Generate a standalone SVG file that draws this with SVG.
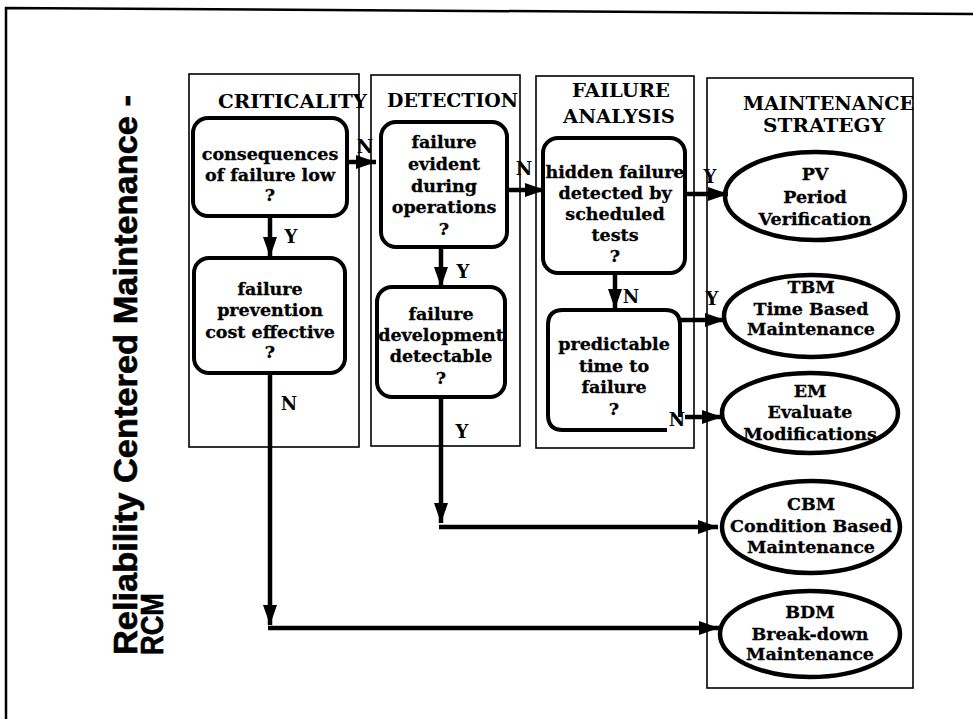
<svg xmlns="http://www.w3.org/2000/svg" width="973" height="719" viewBox="0 0 973 719">
<defs>
<style>
.frame{fill:none;stroke:#000;stroke-width:2.5}
.col{fill:none;stroke:#000;stroke-width:1.6}
.box{fill:#fff;stroke:#000;stroke-width:4}
.ell{fill:#fff;stroke:#000;stroke-width:4.5}
.t{font-family:"DejaVu Serif","Liberation Serif",serif;font-weight:bold;font-size:17.5px;text-anchor:middle;fill:#000;stroke:#000;stroke-width:0.3}
.h{font-family:"DejaVu Serif","Liberation Serif",serif;font-weight:bold;font-size:18px;fill:#000}
.lbl{font-family:"DejaVu Serif","Liberation Serif",serif;font-weight:bold;font-size:18px;text-anchor:middle;fill:#000}
.title{font-family:"Liberation Sans",Arial,sans-serif;font-weight:bold;fill:#000;stroke:#000;stroke-width:0.6}
.c{fill:none;stroke:#000;stroke-width:4.5}
</style>
<marker id="ah" markerUnits="userSpaceOnUse" markerWidth="22" markerHeight="16" refX="20" refY="7" orient="auto" viewBox="0 0 22 16">
<path d="M0,0 L20,7 L0,14 z" fill="#000"/>
</marker>
</defs>
<rect width="973" height="719" fill="#fff"/>
<polyline class="frame" points="6,719 6,8 973,14"/>

<g id="title">
<text class="title" font-size="33" transform="translate(137,655) rotate(-90)" textLength="560" lengthAdjust="spacingAndGlyphs">Reliability Centered Maintenance -</text>
<text class="title" font-size="31" transform="translate(163,655) rotate(-90)" textLength="62" lengthAdjust="spacingAndGlyphs">RCM</text>
</g>

<g id="col-criticality">
<rect class="col" x="189" y="74" width="170" height="373"/>
<text class="h" x="218" y="108" textLength="149" lengthAdjust="spacingAndGlyphs">CRITICALITY</text>
</g>
<g id="col-detection">
<rect class="col" x="371" y="75" width="149" height="371"/>
<text class="h" x="387" y="107" textLength="131" lengthAdjust="spacingAndGlyphs">DETECTION</text>
</g>
<g id="col-failure-analysis">
<rect class="col" x="536" y="76" width="158" height="372"/>
<text class="h" x="572" y="97" textLength="98" lengthAdjust="spacingAndGlyphs">FAILURE</text>
<text class="h" x="563" y="123" textLength="112" lengthAdjust="spacingAndGlyphs">ANALYSIS</text>
</g>
<g id="col-maintenance-strategy">
<rect class="col" x="707" y="78" width="206" height="610"/>
<text class="h" x="743" y="110" textLength="171" lengthAdjust="spacingAndGlyphs">MAINTENANCE</text>
<text class="h" x="763" y="132" textLength="122" lengthAdjust="spacingAndGlyphs">STRATEGY</text>
</g>

<g id="node-consequences">
<rect class="box" x="193" y="118" width="154" height="98" rx="15"/>
<text class="t" x="270" y="160">consequences</text>
<text class="t" x="270" y="181">of failure low</text>
<text class="t" x="270" y="201">?</text>
</g>
<g id="node-prevention">
<rect class="box" x="194" y="258" width="151" height="115" rx="15"/>
<text class="t" x="270" y="295">failure</text>
<text class="t" x="270" y="316">prevention</text>
<text class="t" x="270" y="338">cost effective</text>
<text class="t" x="270" y="358">?</text>
</g>
<g id="node-evident">
<rect class="box" x="381" y="122" width="126" height="125" rx="15"/>
<text class="t" x="444" y="148">failure</text>
<text class="t" x="444" y="170">evident</text>
<text class="t" x="444" y="192">during</text>
<text class="t" x="444" y="213">operations</text>
<text class="t" x="444" y="235">?</text>
</g>
<g id="node-development">
<rect class="box" x="377" y="287" width="128" height="110" rx="15"/>
<text class="t" x="441" y="320">failure</text>
<text class="t" x="441" y="341">development</text>
<text class="t" x="441" y="362">detectable</text>
<text class="t" x="441" y="384">?</text>
</g>
<g id="node-hidden">
<rect class="box" x="543" y="138" width="142" height="135" rx="15"/>
<text class="t" x="615" y="178">hidden failure</text>
<text class="t" x="615" y="199">detected by</text>
<text class="t" x="615" y="220">scheduled</text>
<text class="t" x="615" y="241">tests</text>
<text class="t" x="615" y="262">?</text>
</g>
<g id="node-predictable">
<path class="box" style="fill:none" d="M667,430 L563,430 Q548,430 548,415 L548,325 Q548,310 563,310 L665,310 Q680,310 680,325 L680,417"/>
<text class="t" x="614" y="350">predictable</text>
<text class="t" x="614" y="372">time to</text>
<text class="t" x="614" y="393">failure</text>
<text class="t" x="614" y="415">?</text>
</g>

<g id="node-pv">
<ellipse class="ell" cx="815" cy="196" rx="90" ry="44"/>
<text class="t" x="815" y="180">PV</text>
<text class="t" x="815" y="203">Period</text>
<text class="t" x="815" y="225">Verification</text>
</g>
<g id="node-tbm">
<ellipse class="ell" cx="811" cy="316" rx="87" ry="41"/>
<text class="t" x="811" y="293">TBM</text>
<text class="t" x="811" y="315">Time Based</text>
<text class="t" x="811" y="335">Maintenance</text>
</g>
<g id="node-em">
<ellipse class="ell" cx="810" cy="413" rx="88" ry="40"/>
<text class="t" x="810" y="397">EM</text>
<text class="t" x="810" y="418">Evaluate</text>
<text class="t" x="810" y="440">Modifications</text>
</g>
<g id="node-cbm">
<ellipse class="ell" cx="811" cy="527" rx="89" ry="46"/>
<text class="t" x="811" y="510">CBM</text>
<text class="t" x="811" y="532">Condition Based</text>
<text class="t" x="811" y="553">Maintenance</text>
</g>
<g id="node-bdm">
<ellipse class="ell" cx="810" cy="634" rx="90" ry="43"/>
<text class="t" x="810" y="618">BDM</text>
<text class="t" x="810" y="640">Break-down</text>
<text class="t" x="810" y="660">Maintenance</text>
</g>

<g id="connectors">
<line class="c" x1="347" y1="162" x2="376" y2="162" marker-end="url(#ah)"/>
<line class="c" x1="270" y1="216" x2="270" y2="257" marker-end="url(#ah)"/>
<line class="c" x1="270" y1="373" x2="270" y2="625" marker-end="url(#ah)"/>
<line class="c" x1="268" y1="628" x2="719" y2="628" marker-end="url(#ah)"/>
<line class="c" x1="441" y1="247" x2="441" y2="287" marker-end="url(#ah)"/>
<line class="c" x1="507" y1="190" x2="545" y2="190" marker-end="url(#ah)"/>
<line class="c" x1="441" y1="397" x2="441" y2="523" marker-end="url(#ah)"/>
<line class="c" x1="439" y1="527" x2="718" y2="527" marker-end="url(#ah)"/>
<line class="c" x1="685" y1="194" x2="728" y2="194" marker-end="url(#ah)"/>
<line class="c" x1="615" y1="273" x2="615" y2="309" marker-end="url(#ah)"/>
<line class="c" x1="680" y1="320" x2="725" y2="320" marker-end="url(#ah)"/>
<line class="c" x1="685" y1="417" x2="722" y2="417" marker-end="url(#ah)"/>
<text class="lbl" x="365" y="153">N</text>
<text class="lbl" x="291" y="243">Y</text>
<text class="lbl" x="289" y="410">N</text>
<text class="lbl" x="463" y="278">Y</text>
<text class="lbl" x="462" y="438">Y</text>
<text class="lbl" x="524" y="175">N</text>
<text class="lbl" x="710" y="183">Y</text>
<text class="lbl" x="631" y="303">N</text>
<text class="lbl" x="712" y="305">Y</text>
<text class="lbl" x="677" y="426">N</text>
</g>
</svg>
